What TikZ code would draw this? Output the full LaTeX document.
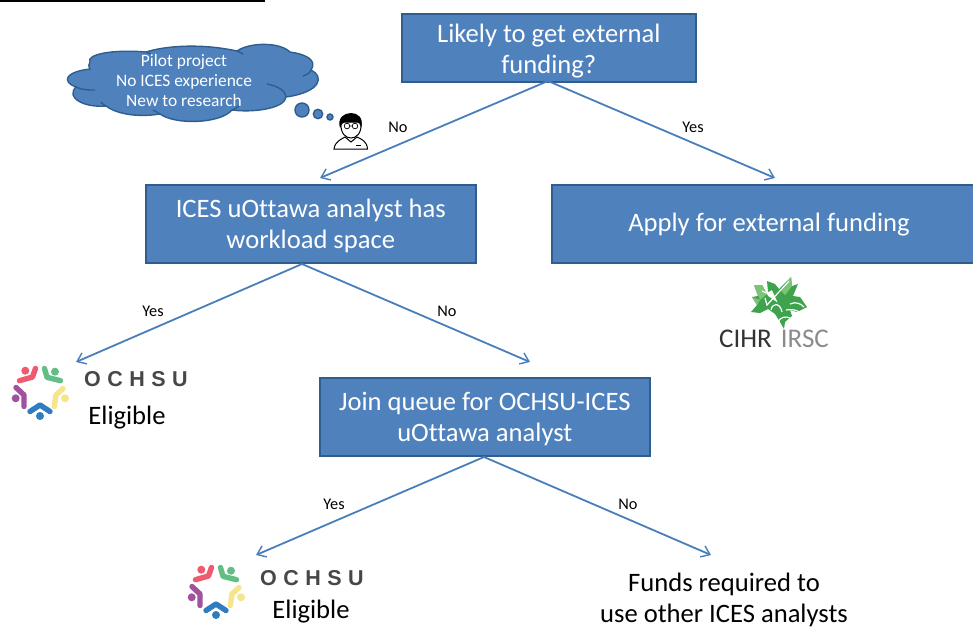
\documentclass[tikz,border=0pt]{standalone}
\usepackage{fontspec}
\setmainfont[Ligatures=CommonOff]{Carlito}
\newfontfamily\logofont[LetterSpace=30]{Liberation Sans}
\usetikzlibrary{arrows.meta}
\definecolor{boxblue}{HTML}{4F81BD}
\definecolor{boxedge}{HTML}{2F5E8E}
\definecolor{arrowblue}{HTML}{4A7EBB}
\definecolor{lred}{HTML}{EE5A6F}
\definecolor{lgreen}{HTML}{62BE84}
\definecolor{lyellow}{HTML}{F6E58A}
\definecolor{lblue}{HTML}{2F7DBE}
\definecolor{lpurple}{HTML}{A0529F}
\definecolor{leafg}{HTML}{3FA34D}
\definecolor{leafl}{HTML}{7CC576}
\newcommand{\topfix}{\rule{0pt}{23pt}}
\tikzset{
  x=1pt,y=-1pt,
  flowbox/.style={draw=boxedge,line width=1.6pt,fill=boxblue,text=white,font=\fontsize{26.6}{31}\selectfont,align=center,anchor=north west,inner sep=0pt},
  flowarrow/.style={draw=arrowblue,line width=1.8pt,-{Straight Barb[length=8pt,width=12pt,line width=1.4pt]}},
  edgelabel/.style={font=\fontsize{16.3}{18}\selectfont,text=black},
  plaintext/.style={font=\fontsize{26.6}{31}\selectfont,text=black,align=center,inner sep=0pt},
  cloudtext/.style={font=\fontsize{17.4}{20}\selectfont,text=white,align=center},
  cloudline/.style={draw=boxedge,line width=1.4pt},
  logobar/.style={line width=5.4pt,line cap=round,line join=round},
  logotext/.style={font=\logofont\bfseries\fontsize{21.5}{22}\selectfont,text=black!72,anchor=west,inner sep=0pt},
  ochsu/.pic={
    \fill[lred] (25.3,370.7) circle (4);
    \draw[logobar,lred] (19.5,380.7) -- (32.5,377) -- (35.5,368.5);
    \fill[lgreen] (55,371.7) circle (4);
    \draw[logobar,lgreen] (44.5,368.5) -- (47,377.3) -- (60.5,380.7);
    \fill[lyellow] (65,398.3) circle (4);
    \draw[logobar,lyellow] (63,388.5) -- (56,395) -- (54.3,406.5);
    \fill[lblue] (40,416) circle (4);
    \draw[logobar,lblue] (30,411.5) -- (40,405) -- (50,411.5);
    \fill[lpurple] (15.7,398.3) circle (4);
    \draw[logobar,lpurple] (16,387.5) -- (24,395) -- (24,406.5);
  }
}
\begin{document}
\begin{tikzpicture}
\useasboundingbox (0,0) rectangle (973,626);
\fill[white] (0,0) rectangle (973,626);
\draw[black,line width=1.5pt] (0,1) -- (265,1);

% boxes
\node[flowbox,minimum width=294pt,minimum height=68pt] (fund) at (401,13) {\rule{0pt}{25pt}Likely to get external\\funding?};
\node[flowbox,minimum width=330pt,minimum height=78pt] (space) at (145,184) {\topfix ICES uOttawa analyst has\\workload space};
\begin{scope}
\clip (0,0) rectangle (973,626);
\node[flowbox,minimum width=430pt,minimum height=78pt] (apply) at (551,184) {};
\end{scope}
\node[font=\fontsize{26.6}{31}\selectfont,text=white] (applytext) at (769,225) {Apply for external funding};
\node[flowbox,minimum width=330pt,minimum height=78pt] (queue) at (319,377) {\topfix Join queue for OCHSU-ICES\\uOttawa analyst};

% free ends
\coordinate (f1) at (548,81);
\coordinate (a1) at (320,178);
\coordinate (a2) at (775,178);
\coordinate (s1) at (302,264);
\coordinate (a3) at (76,362);
\coordinate (a4) at (530,362);
\coordinate (q1) at (484,457);
\coordinate (a5) at (256,555);
\coordinate (a6) at (711,555);

\draw[flowarrow] (f1) -- (a1);
\draw[flowarrow] (f1) -- (a2);
\draw[flowarrow] (s1) -- (a3);
\draw[flowarrow] (s1) -- (a4);
\draw[flowarrow] (q1) -- (a5);
\draw[flowarrow] (q1) -- (a6);

\node[edgelabel] (l1) at (398,127) {No};
\node[edgelabel] (l2) at (693,127) {Yes};
\node[edgelabel] (l3) at (153,311) {Yes};
\node[edgelabel] (l4) at (447,311) {No};
\node[edgelabel] (l5) at (334,504) {Yes};
\node[edgelabel] (l6) at (628,504) {No};

% thought cloud
\draw[cloudline,fill=boxblue]
  (90,62)
  .. controls (86,55) and (110,49) .. (146,52)
  .. controls (165,46) and (200,43) .. (237,51)
  .. controls (250,42) and (280,42) .. (290,52)
  .. controls (305,54) and (318,60) .. (311,70)
  .. controls (324,76) and (322,92) .. (286,97)
  .. controls (285,108) and (255,113) .. (232,110)
  .. controls (220,124) and (175,125) .. (160,114)
  .. controls (135,118) and (115,113) .. (106,106)
  .. controls (85,108) and (65,98) .. (76,87)
  .. controls (62,82) and (64,72) .. (90,69)
  .. controls (88,66) and (89,64) .. (90,62) -- cycle;
\draw[cloudline] (76,87) .. controls (82,90) and (88,90) .. (95,90);
\draw[cloudline] (106,106) .. controls (104,105) and (102,104) .. (101,102);
\draw[cloudline] (160,114) .. controls (157,112) and (155,111) .. (153,110);
\draw[cloudline] (232,110) .. controls (235,109) and (238,107) .. (240,105);
\draw[cloudline] (286,97) .. controls (286,92) and (279,86) .. (267,84);
\draw[cloudline] (311,70) .. controls (310,73) and (306,75) .. (303,76);
\draw[cloudline] (237,51) .. controls (240,52) and (241,53) .. (243,54);
\draw[cloudline] (146,52) .. controls (149,53) and (151,54) .. (153,56);
\node[cloudtext] (cloudt) at (184,80.5) {Pilot project\\No ICES experience\\New to research};
\draw[cloudline,fill=boxblue] (302,110) circle (7);
\draw[cloudline,fill=boxblue] (318,114) circle (4.7);
\draw[cloudline,fill=boxblue] (330,117) circle (3);

% person
\draw[black,line width=1pt,fill=white] (334,149) .. controls (335,141) and (342,139) .. (345,137)
  -- (351,142) -- (357,137) .. controls (361,139) and (367,141) .. (367.5,149) -- cycle;
\draw[black,line width=1pt,fill=white] (341,122) .. controls (340,134) and (346,138) .. (351,138) .. controls (356,138) and (362,134) .. (361,122) -- cycle;
\fill[black] (340,128) .. controls (337,118) and (344,113) .. (351,113) .. controls (358,113) and (364,118) .. (361,128)
  .. controls (360,124) and (359,122) .. (357,122) -- (345,122) .. controls (343,122) and (342,124) .. (340,128) -- cycle;
\draw[black,line width=.7pt] (347,126) circle (2.8) (355,126) circle (2.8) (349.8,126) -- (352.2,126);
\draw[black,line width=.9pt] (356,145.5) -- (361,145.5);

% logos
\pic (logoa) at (0,0) {ochsu};
\node[logotext] (ochsua) at (84,379) {OCHSU};
\node[plaintext] (elig1) at (127,418) {Eligible};
\pic (logob) at (176,199) {ochsu};
\node[logotext] (ochsub) at (260,578) {OCHSU};
\node[plaintext] (elig2) at (311,612) {Eligible};
\node[plaintext] (funds) at (724,599.5) {Funds required to\\use other ICES analysts};

% CIHR leaf
\fill[leafg] (778,303) -- (772,290) -- (768,292) -- (767,281) -- (775,284) -- (779,289) -- (786,282) -- (791,277) -- (792,286) -- (798,284) -- (793,296)
 -- (800,297) -- (807,307) -- (797,312) -- (790,310) -- (792,316) -- (785,322) -- (784,329) -- (780,322) -- (775,314) -- (768,309) -- (760,313) -- (751,312) -- (757,305) -- (752,297) -- (758,296) -- (754,285) -- (762,285) -- (768,296) -- cycle;
\fill[leafl] (754,285) -- (762,285) -- (767,294) -- (760,300) -- cycle (752,297) -- (760,300) -- (757,305) -- cycle (791,277) -- (792,286) -- (785,295) -- (781,291) -- cycle;
\draw[white,line width=1.2pt] (789,281) -- (767,305) -- (765,298) (762,291) -- (769,294) (771,310) .. controls (772,303) and (780,302) .. (782,312) (790,304) .. controls (796,301) and (801,304) .. (804,307) (786,310) .. controls (791,309) and (797,310) .. (799,312) (778,322) .. controls (780,317) and (786,316) .. (790,318);
\node[font=\fontsize{27}{26}\selectfont,anchor=west,inner sep=0pt,text=black!80] (cihr) at (719,339) {CIHR\hspace{9pt}\textcolor{black!45}{IRSC}};
\end{tikzpicture}
\end{document}
